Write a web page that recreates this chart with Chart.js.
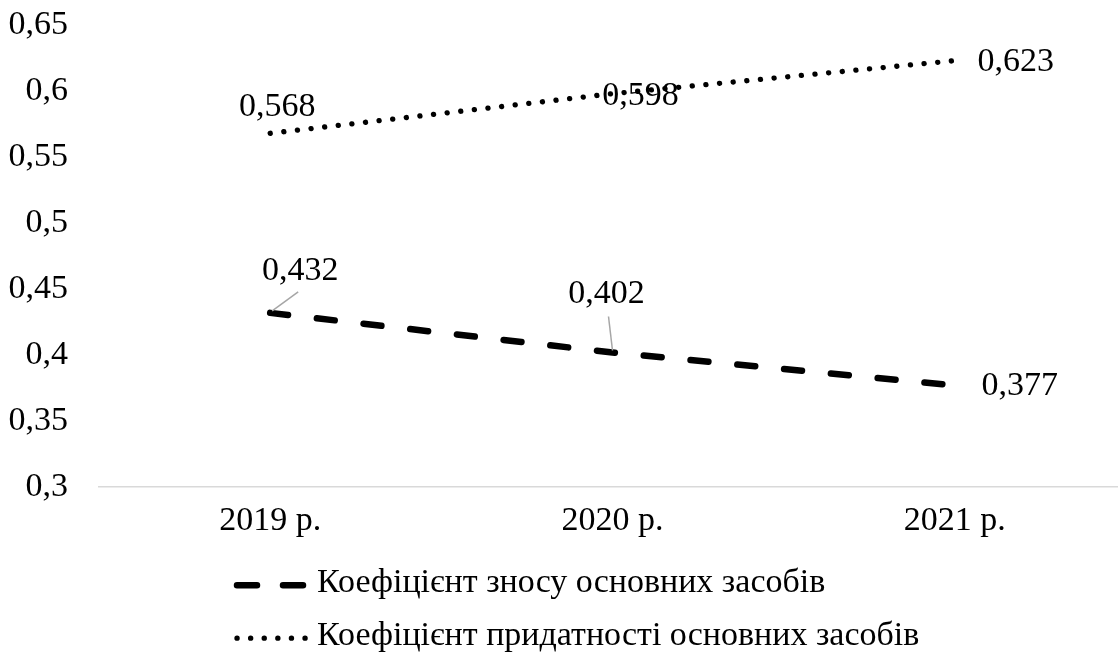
<!DOCTYPE html>
<html>
<head>
<meta charset="utf-8">
<script src="https://cdn.jsdelivr.net/npm/chart.js@4.4.1/dist/chart.umd.min.js"></script>
<style>
  html, body { margin: 0; padding: 0; background: #fff; overflow: hidden; }
  #chart { display: block; }
</style>
</head>
<body>
<canvas id="chart" width="1126" height="652"></canvas>
<script>
const categories = ['2019 р.', '2020 р.', '2021 р.'];
const wearValues = [0.432, 0.402, 0.377];
const fitnessValues = [0.568, 0.598, 0.623];
const yTicks = [0.3, 0.35, 0.4, 0.45, 0.5, 0.55, 0.6, 0.65];
const wearLabel = 'Коефіцієнт зносу основних засобів';
const fitnessLabel = 'Коефіцієнт придатності основних засобів';

const FONT = '"Liberation Serif", "Times New Roman", serif';
const FONT_SIZE = 34;
const fmt = v => String(v).replace('.', ',');

// зсуви підписів відносно точок (dx, dy) і чи малювати виноску
const labelOffsets = [
  [[30, -42, true], [-6, -58, true], [65, 1, false]],
  [[7, -26, false], [28, 2, false], [61, 1, false]]
];

const valueLabels = {
  id: 'valueLabels',
  afterDatasetsDraw(chart) {
    const ctx = chart.ctx;
    ctx.save();
    ctx.font = FONT_SIZE + 'px ' + FONT;
    ctx.textAlign = 'center';
    ctx.textBaseline = 'middle';
    chart.data.datasets.forEach((ds, di) => {
      const meta = chart.getDatasetMeta(di);
      meta.data.forEach((pt, i) => {
        const [dx, dy, leader] = labelOffsets[di][i];
        const lx = pt.x + dx, ly = pt.y + dy;
        if (leader) {
          ctx.strokeStyle = '#a6a6a6';
          ctx.lineWidth = 1.5;
          ctx.beginPath();
          if (dx > 10) {
            ctx.moveTo(pt.x + 2, pt.y - 2);
            ctx.lineTo(lx - 2, ly + 21);
          } else {
            ctx.moveTo(pt.x, pt.y - 2);
            ctx.lineTo(pt.x - 4, ly + 22);
          }
          ctx.stroke();
        }
        ctx.fillStyle = '#000';
        ctx.fillText(fmt(ds.data[i]), lx, ly);
      });
    });
    ctx.restore();
  }
};

const bottomLegend = {
  id: 'bottomLegend',
  afterDraw(chart) {
    const ctx = chart.ctx;
    const x0 = chart.chartArea.left + 137;
    const b = chart.chartArea.bottom;
    const rows = [b + 98, b + 151];
    ctx.save();
    chart.data.datasets.forEach((ds, di) => {
      const y = rows[di];
      ctx.strokeStyle = '#000';
      ctx.lineWidth = ds.borderWidth;
      ctx.lineCap = 'round';
      ctx.setLineDash(di === 0 ? [20, 26] : [0.1, 13.5]);
      ctx.beginPath();
      ctx.moveTo(x0 + 1, y);
      ctx.lineTo(x0 + (di === 0 ? 68 : 70), y);
      ctx.stroke();
      ctx.setLineDash([]);
      ctx.fillStyle = '#000';
      ctx.font = FONT_SIZE + 'px ' + FONT;
      ctx.textAlign = 'left';
      ctx.textBaseline = 'middle';
      ctx.fillText(ds.label, x0 + 81, y - 2);
    });
    ctx.restore();
  }
};

new Chart(document.getElementById('chart'), {
  type: 'line',
  data: {
    labels: categories,
    datasets: [
      {
        label: wearLabel,
        data: wearValues,
        borderColor: '#000',
        borderWidth: 6.5,
        borderDash: [18, 29],
        borderCapStyle: 'round',
        pointRadius: 0,
        tension: 0,
        fill: false
      },
      {
        label: fitnessLabel,
        data: fitnessValues,
        borderColor: '#000',
        borderWidth: 5.3,
        borderDash: [0.1, 13.6],
        borderCapStyle: 'round',
        pointRadius: 0,
        tension: 0,
        fill: false
      }
    ]
  },
  options: {
    responsive: false,
    animation: false,
    layout: { padding: { top: 25, bottom: 98, left: 0, right: 0 } },
    plugins: {
      legend: { display: false },
      tooltip: { enabled: false }
    },
    scales: {
      x: {
        offset: true,
        grid: { display: false, drawTicks: false, offset: true },
        border: { display: true, color: '#d9d9d9', width: 1.5 },
        ticks: { color: '#000', font: { family: FONT, size: FONT_SIZE }, padding: 13 }
      },
      y: {
        min: 0.3,
        max: 0.65,
        afterFit(axis) {
          axis.width = 99;
          axis.paddingTop = 0;
          axis.paddingBottom = 0;
        },
        afterBuildTicks(axis) { axis.ticks = yTicks.map(v => ({ value: v })); },
        grid: { display: false, drawTicks: false },
        border: { display: false },
        ticks: {
          color: '#000',
          font: { family: FONT, size: FONT_SIZE },
          padding: 31,
          callback: v => fmt(Math.round(v * 100) / 100)
        }
      }
    }
  },
  plugins: [valueLabels, bottomLegend]
});
</script>
</body>
</html>
